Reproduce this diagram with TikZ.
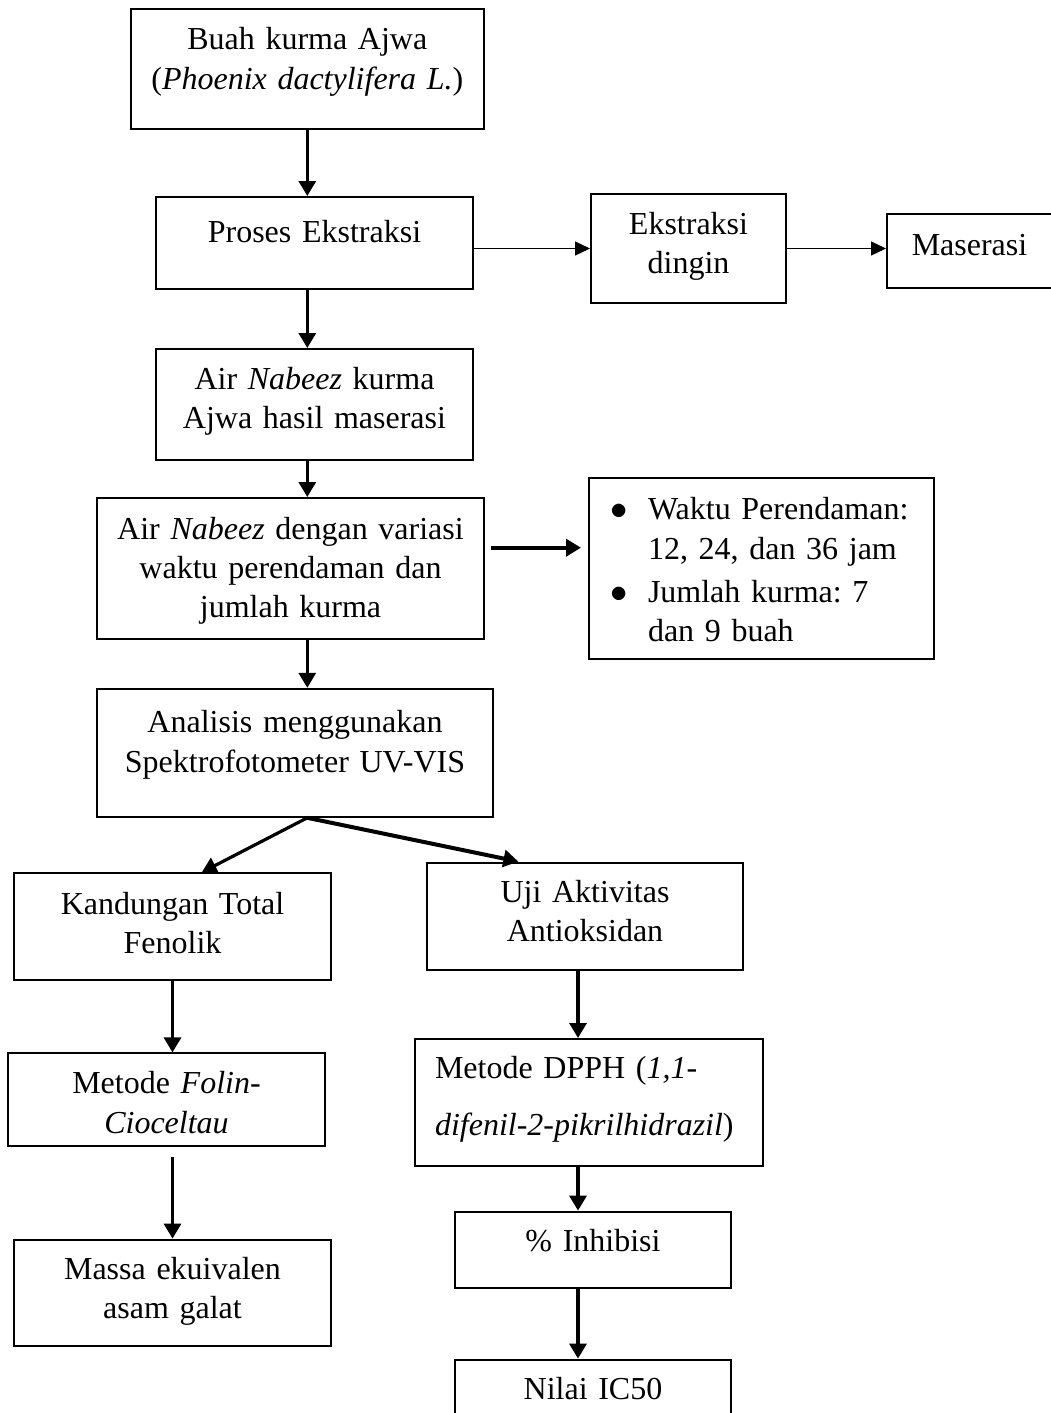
\documentclass[tikz,border=0pt]{standalone}
\usepackage{fontspec}
\setmainfont{Liberation Serif}
\usetikzlibrary{positioning, arrows.meta}
\frenchspacing

\begin{document}
\begin{tikzpicture}[
    node distance=0.25cm,
    every node/.style={font=\fontsize{16}{19.6}\selectfont},
    box/.style={draw, line width=1pt, rectangle, inner sep=0pt, align=center},
    arrow/.style={-{Triangle[length=7.5pt,width=8.5pt]}, line width=1.6pt},
    thinarrow/.style={-{Triangle[length=7.5pt,width=7pt]}, line width=0.6pt}
]
\useasboundingbox (0,0) rectangle (525pt,-706.5pt);

\node[box, text width=176.7pt, text height=20.5pt, text depth=39.5pt] (buah) at (153.65pt,-34.5pt) {Buah kurma Ajwa\\(\textit{Phoenix dactylifera L.})};
\node[box, text width=158.5pt, text height=22.5pt, text depth=23.5pt, below=33pt of buah, xshift=3.6pt] (proses) {Proses Ekstraksi};
\node[box, text width=97.5pt, text height=20pt, text depth=34.5pt, right=58pt of proses, yshift=-2.75pt] (dingin) {Ekstraksi\\dingin};
\node[box, text width=82.5pt, text height=20.5pt, text depth=16.5pt, right=49.5pt of dingin, yshift=-1.25pt] (maserasi) {Maserasi};
\node[box, text width=158.5pt, text height=20.3pt, text depth=35.2pt, below=29pt of proses] (airkurma) {Air \textit{Nabeez} kurma\\Ajwa hasil maserasi};
\node[box, text width=193.5pt, text height=20.5pt, text depth=49.8pt, below=18pt of airkurma, xshift=-12pt] (variasi) {Air \textit{Nabeez} dengan variasi\\waktu perendaman dan\\jumlah kurma};
\node[box, text width=172.5pt, text height=21pt, text depth=69.5pt, align=left, right=51.5pt of variasi] (ket) {\hspace*{10.5pt}\makebox[19pt][l]{$\bullet$}Waktu Perendaman:\\\hspace*{29.5pt}12, 24, dan 36 jam\\[2pt]\hspace*{10.5pt}\makebox[19pt][l]{$\bullet$}Jumlah kurma: 7\\\hspace*{29.5pt}dan 9 buah};
\node[box, text width=198pt, text height=22pt, text depth=42pt, below=24.1pt of variasi, xshift=2.25pt] (analisis) {Analisis menggunakan\\Spektrofotometer UV-VIS};
\node[box, text width=158.5pt, text height=20.5pt, text depth=32.7pt, below=27.3pt of analisis, xshift=-61.25pt] (kandungan) {Kandungan Total\\Fenolik};
\node[box, text width=158pt, text height=20pt, text depth=33.5pt, below=21.9pt of analisis, xshift=145pt] (uji) {Uji Aktivitas\\Antioksidan};
\node[box, text width=158.5pt, text height=20.2pt, text depth=26.1pt, below=35.8pt of kandungan, xshift=-3pt] (folin) {Metode \textit{Folin-}\\\textit{Cioceltau}};
\node[box, text width=158.5pt, text height=20pt, text depth=33.2pt, below=45.8pt of folin, xshift=3pt] (massa) {Massa ekuivalen\\asam galat};
\node[box, text width=154pt, inner xsep=10pt, text height=19.85pt, text depth=43.65pt, align=left, below=33.7pt of uji, xshift=2pt] (dpph) {Metode DPPH (\textit{1,1-}\\[8.7pt]\textit{difenil-2-pikrilhidrazil})};
\node[box, text width=138pt, text height=20pt, text depth=18.2pt, below=21.8pt of dpph, xshift=2pt] (inhibisi) {\% Inhibisi};
\node[box, text width=138pt, text height=20pt, text depth=30pt, below=34.8pt of inhibisi] (nilai) {Nilai IC50};

\coordinate (kanan) at ([xshift=-3.5pt]uji.south);

\draw[arrow] (buah.south) -- (buah.south |- proses.north);
\draw[thinarrow] (proses.east |- dingin) -- (dingin.west);
\draw[thinarrow] (dingin.east) -- (dingin.east -| maserasi.west);
\draw[arrow] (proses.south -| buah) -- (airkurma.north -| buah);
\draw[arrow] (airkurma.south -| buah) -- (variasi.north -| buah);
\draw[arrow, line width=2pt, shorten <=2.8pt, shorten >=3.5pt] ([yshift=10.3pt]variasi.east) -- ([yshift=10.3pt]variasi.east -| ket.west);
\draw[arrow] (variasi.south -| buah) -- (analisis.north -| buah);
\draw[arrow] (analisis.south -| buah) -- ([xshift=14.6pt]kandungan.north);
\draw[arrow, line width=2pt] (analisis.south -| buah) -- ([xshift=-33.3pt]uji.north);
\draw[arrow] (kandungan.south) -- (kandungan.south |- folin.north);
\draw[arrow, shorten <=5pt] (folin.south -| kandungan) -- (massa.north -| kandungan);
\draw[arrow] (uji.south -| kanan) -- (dpph.north -| kanan);
\draw[arrow] (dpph.south -| kanan) -- (inhibisi.north -| kanan);
\draw[arrow] (inhibisi.south -| kanan) -- (nilai.north -| kanan);
\end{tikzpicture}
\end{document}
